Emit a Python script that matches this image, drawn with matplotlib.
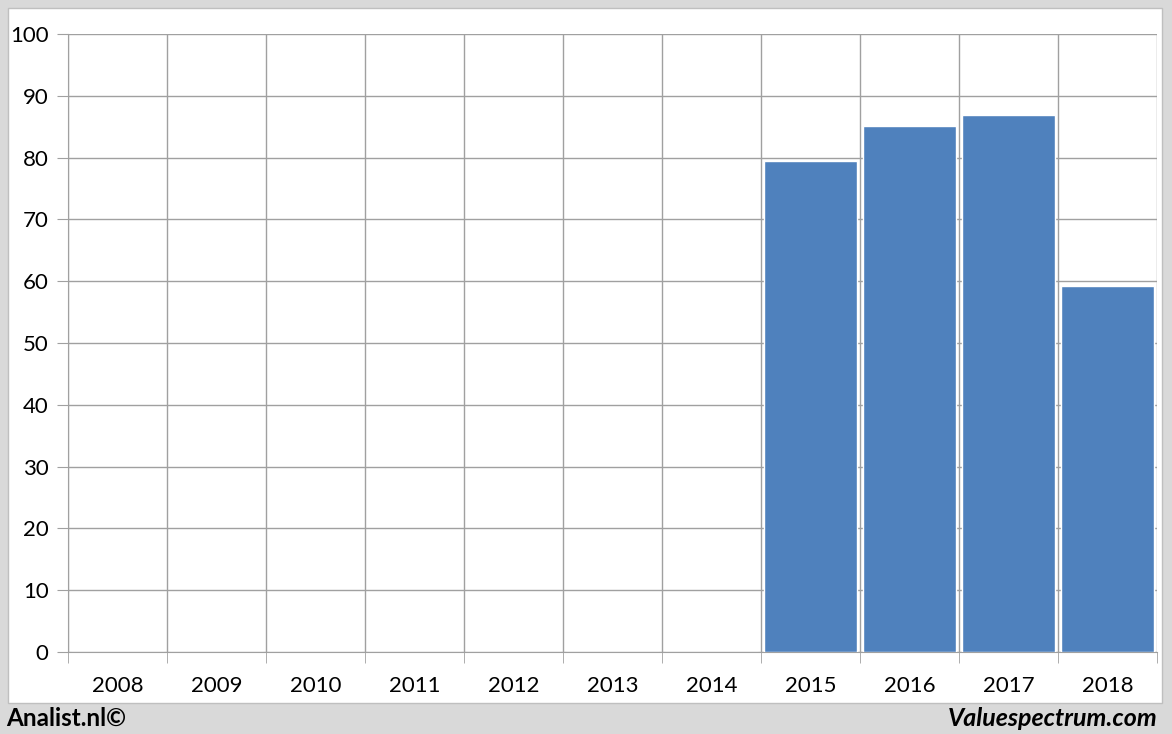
import numpy as np
import matplotlib.pyplot as plt
from matplotlib.patches import Rectangle

plt.rcParams['font.family'] = ['Lato', 'DejaVu Sans']

years = ['2008', '2009', '2010', '2011', '2012', '2013', '2014',
         '2015', '2016', '2017', '2018']
values = [0, 0, 0, 0, 0, 0, 0, 79.4, 85.1, 86.9, 59.2]

W, H = 1172, 734
fig = plt.figure(figsize=(W / 100, H / 100), dpi=100)
fig.patch.set_facecolor('#d9d9d9')

# white panel with thin border
fig.add_artist(Rectangle((8 / W, 1 - 703 / H), (1162 - 8) / W, (703 - 8) / H,
                         transform=fig.transFigure, facecolor='white',
                         edgecolor='#bfbfbf', linewidth=1, zorder=0))

ax = fig.add_axes([68 / W, 82 / H, (1157 - 68) / W, (652 - 34) / H])
ax.set_facecolor('none')

x = np.arange(len(years))
ax.bar(x, values, width=0.93, color='#4f81bd', edgecolor='white',
       linewidth=1, zorder=3)

ax.set_xlim(-0.5, len(years) - 0.5)
ax.set_ylim(0, 100)
ax.set_yticks(np.arange(0, 101, 10))
ax.set_xticks(x)
ax.set_xticklabels(years)
ax.set_xticks(np.arange(-0.5, len(years), 1), minor=True)

ax.grid(axis='y', color='#a0a0a0', linewidth=1, zorder=1)
ax.grid(axis='x', which='minor', color='#a0a0a0', linewidth=1, zorder=1)
ax.tick_params(axis='x', which='major', length=0, labelsize=16, pad=17)
ax.tick_params(axis='x', which='minor', length=8, color='#a0a0a0')
ax.tick_params(axis='y', length=8, color='#a0a0a0', labelsize=16, pad=6)

for s in ['top', 'right']:
    ax.spines[s].set_visible(False)
ax.spines['left'].set_color('#a0a0a0')
ax.spines['bottom'].set_color('#a0a0a0')

fig.text(6 / W, 1 - 718 / H, 'Analist.nl©', fontsize=17.5, fontweight='bold',
         ha='left', va='center')
fig.text(1158 / W, 1 - 718 / H, 'Valuespectrum.com', fontsize=18,
         fontweight='bold', fontstyle='italic', ha='right', va='center')

fig.savefig('out.png', dpi=100, facecolor=fig.get_facecolor())
